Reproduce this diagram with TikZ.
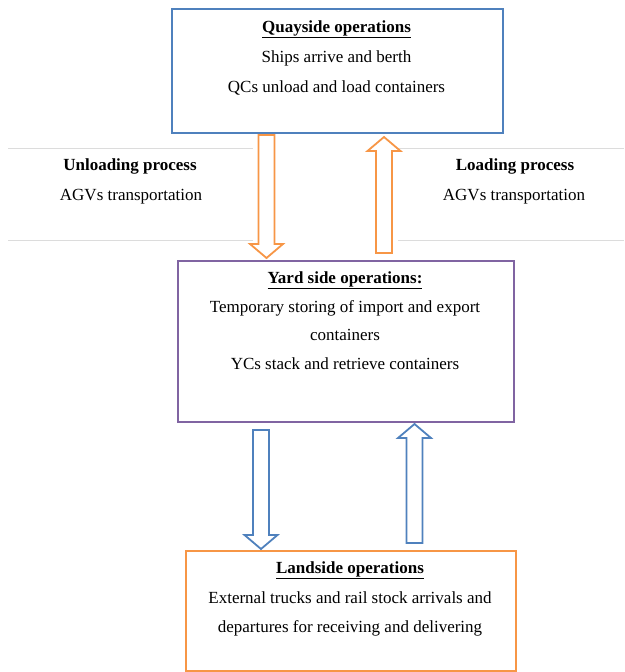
\documentclass[tikz,border=0pt]{standalone}
\usepackage{fontspec}
\setmainfont{Liberation Serif}
\usetikzlibrary{calc}

\definecolor{quayblue}{HTML}{4F81BD}
\definecolor{yardpurple}{HTML}{8064A2}
\definecolor{landorange}{HTML}{F79646}
\definecolor{rulegray}{HTML}{DCDCDC}

\tikzset{
  opbox/.style={draw=#1, line width=2pt, anchor=north west, inner sep=0pt},
  optext/.style={anchor=base, inner sep=0pt, font=\fontsize{17}{20}\selectfont},
  tablerule/.style={draw=rulegray, line width=1pt},
}

% hollow block arrow from #2 to #3 (vertical)
\newcommand{\hollowarrow}[3][]{%
  \draw[line width=1.8pt, fill=white, line join=miter, #1]
    let \p1=(#2), \p2=(#3), \n1={(\y2>\y1)?1:-1} in
    ({\x1-8pt},\y1) -- ({\x1-8pt},{\y2-\n1*14pt})
    -- ({\x1-16.5pt},{\y2-\n1*14pt}) -- (\x1,\y2)
    -- ({\x1+16.5pt},{\y2-\n1*14pt}) -- ({\x1+8pt},{\y2-\n1*14pt})
    -- ({\x1+8pt},\y1) -- cycle;}

\begin{document}
\begin{tikzpicture}[x=1pt, y=-1pt]
    \useasboundingbox (0, 0) rectangle (624, 672);

    % ---------------------------------------------
    % quayside
    \node[opbox=quayblue, minimum width=331pt, minimum height=124pt] (quay) at (171, 8) {};
    \node[optext] (quaytitle) at (336.5, 32) {\underline{\textbf{Quayside operations}}};
    \node[optext] (quayline1) at (336.5, 62) {Ships arrive and berth};
    \node[optext] (quayline2) at (336.5, 92) {QCs unload and load containers};

    % ---------------------------------------------
    % table rules and AGV labels
    \draw[tablerule] (8, 148) -- (253, 148);
    \draw[tablerule] (8, 240) -- (253, 240);
    \draw[tablerule] (398, 148) -- (624, 148);
    \draw[tablerule] (398, 240) -- (624, 240);
    \node[optext] (unloadhead) at (130, 170) {\textbf{Unloading process}};
    \node[optext] (unloadagv) at (131, 200) {AGVs transportation};
    \node[optext] (loadhead) at (515, 170) {\textbf{Loading process}};
    \node[optext] (loadagv) at (514, 200) {AGVs transportation};

    % ---------------------------------------------
    % yard side
    \node[opbox=yardpurple, minimum width=336pt, minimum height=161pt] (yard) at (177, 260) {};
    \node[optext] (yardtitle) at (345, 283) {\underline{\textbf{Yard side operations:}}};
    \node[optext] (yardline1) at (345, 312) {Temporary storing of import and export};
    \node[optext] (yardline2) at (345, 340) {containers};
    \node[optext] (yardline3) at (345, 369) {YCs stack and retrieve containers};

    % ---------------------------------------------
    % landside
    \node[opbox=landorange, minimum width=330pt, minimum height=120pt] (land) at (185, 550) {};
    \node[optext] (landtitle) at (350, 573) {\underline{\textbf{Landside operations}}};
    \node[optext] (landline1) at (350, 603) {External trucks and rail stock arrivals and};
    \node[optext] (landline2) at (350, 632) {departures for receiving and delivering};

    % ---------------------------------------------
    % AGV arrows between quay and yard
    \hollowarrow[draw=landorange]{[xshift=-71pt, yshift=-1pt]quay.south}{[xshift=-79.5pt, yshift=2pt]yard.north}
    \hollowarrow[draw=landorange]{[xshift=38pt, yshift=7pt]yard.north}{[xshift=46.5pt, yshift=-3pt]quay.south}

    % trucks between yard and land
    \hollowarrow[draw=quayblue]{[xshift=-85pt, yshift=-7pt]yard.south}{[xshift=-90pt, yshift=1pt]land.north}
    \hollowarrow[draw=quayblue]{[xshift=63.5pt, yshift=7pt]land.north}{[xshift=68.5pt, yshift=-1pt]yard.south}

\end{tikzpicture}
\end{document}
